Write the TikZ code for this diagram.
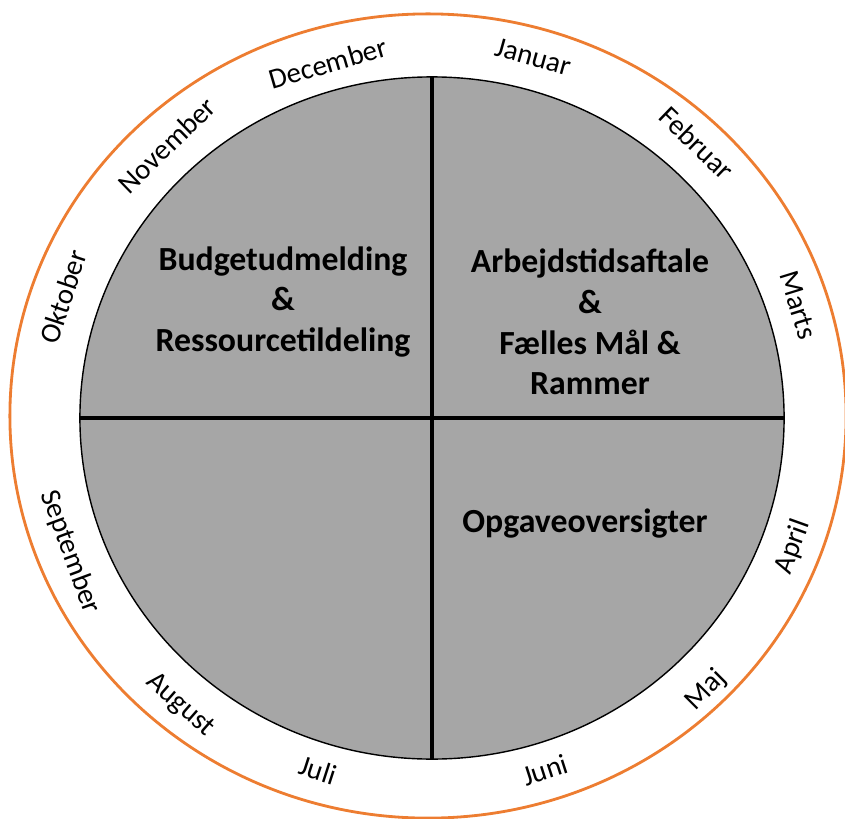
\documentclass[tikz,border=0pt]{standalone}
\usepackage{fontspec}
\setmainfont{Carlito}
\usepackage{xcolor}
\usepackage{tikz}
\usetikzlibrary{shapes.geometric}

\definecolor{ringorange}{RGB}{237,125,49}
\definecolor{wheelgray}{RGB}{166,166,166}

\begin{document}
\begin{tikzpicture}[
    x=0.025cm, y=0.025cm,
    month/.style={font=\fontsize{20.5}{24}\selectfont, inner sep=0pt},
    phase/.style={font=\fontsize{24}{29}\selectfont\bfseries, align=center, inner sep=0pt},
    divider/.style={line width=2.6pt}
]
    \useasboundingbox (0,0) rectangle (845,818);

    % Outer ring
    \node[ellipse, draw=ringorange, line width=2pt, inner sep=0pt,
          minimum width=20.9cm, minimum height=20.1cm] (ring) at (428,402) {};

    % Year wheel
    \node[ellipse, draw=black, fill=wheelgray, line width=1pt, inner sep=0pt,
          minimum width=17.6cm, minimum height=17.05cm] (wheel) at (432,400) {};

    % Quarters
    \draw[divider] (wheel.north) -- (wheel.south);
    \draw[divider] (wheel.west) -- (wheel.east);

    % Phases
    \node[phase] (budget) at (283,516) {Budgetudmelding\\\&\\Ressourcetildeling};
    \node[phase] (aftale) at (590,496) {Arbejdstidsaftale\\\&\\Fælles Mål \&\\Rammer};
    \node[phase] (opgave) at (585,294) {Opgaveoversigter};

    % Months
    \node[month, rotate=-15.6] (jan) at (533,761) {Januar};
    \node[month, rotate=-44] (feb) at (697,675) {Februar};
    \node[month, rotate=-72.8] (mar) at (798,513) {Marts};
    \node[month, rotate=70.3] (apr) at (793,271) {April};
    \node[month, rotate=45] (maj) at (706,128) {Maj};
    \node[month, rotate=17.8] (jun) at (545,48) {Juni};
    \node[month, rotate=-17.9] (jul) at (318,48) {Juli};
    \node[month, rotate=-41.3] (aug) at (180,113) {August};
    \node[month, rotate=-69.7] (sep) at (70,266) {September};
    \node[month, rotate=71.8] (okt) at (63,521) {Oktober};
    \node[month, rotate=44.1] (nov) at (167,673) {November};
    \node[month, rotate=16.3] (dec) at (328,755) {December};
\end{tikzpicture}
\end{document}
